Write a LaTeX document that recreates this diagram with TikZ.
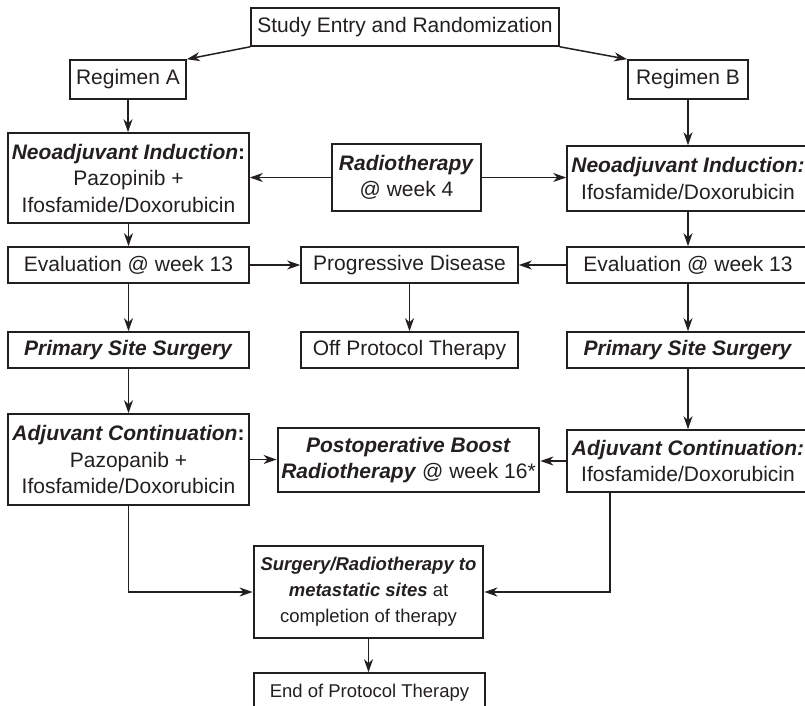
\documentclass[tikz,border=0pt]{standalone}
\usepackage{fontspec}
\setmainfont{Liberation Sans}
\usetikzlibrary{arrows.meta,calc}
\definecolor{ink}{RGB}{35,31,32}
\newcommand{\bi}[1]{\textbf{\textit{#1}}}
\begin{document}
\begin{tikzpicture}[x=1pt,y=-1pt,
  box/.style={draw=ink,text=ink,line width=1.6pt,inner sep=0pt,align=center,
    font=\fontsize{21}{26.5}\selectfont},
  thickbox/.style={box,line width=2.8pt},
  small/.style={font=\fontsize{18.5}{26}\selectfont},
  arr/.style={draw=ink,line width=1.5pt,-{Stealth[length=13pt,width=9pt,inset=4pt]}}]
\useasboundingbox (0,0) rectangle (805,706);
% row 1
\node[box,minimum width=308pt,minimum height=38pt] (study) at (405,27) {Study Entry and Randomization};
\node[box,minimum width=116pt,minimum height=39pt] (regA) at (128,79.5) {Regimen A};
\node[box,minimum width=120pt,minimum height=39pt] (regB) at (688,79.5) {Regimen B};
% row 2
\node[box,minimum width=241pt,minimum height=90pt] (neoA) at (128.5,178) {\bi{Neoadjuvant Induction}\textbf{:}\\Pazopinib +\\Ifosfamide/Doxorubicin};
\node[box,minimum width=149pt,minimum height=67pt] (radio) at (406.5,177.5) {\bi{Radiotherapy}\\@ week 4};
\node[box,minimum width=242pt,minimum height=65pt] (neoB) at (688,178.5) {\bi{Neoadjuvant Induction:}\\Ifosfamide/Doxorubicin};
% row 3
\node[box,minimum width=241pt,minimum height=36pt] (evalA) at (128.5,265) {Evaluation @ week 13};
\node[box,minimum width=217pt,minimum height=36pt] (prog) at (409.5,265) {Progressive Disease};
\node[box,minimum width=242pt,minimum height=36pt] (evalB) at (688,265) {Evaluation @ week 13};
% row 4
\node[box,minimum width=241pt,minimum height=36pt] (primA) at (128.5,350) {\bi{Primary Site Surgery}};
\node[box,minimum width=217pt,minimum height=36pt] (off) at (409.5,350) {Off Protocol Therapy};
\node[box,minimum width=242pt,minimum height=36pt] (primB) at (688,350) {\bi{Primary Site Surgery}};
% row 5
\node[box,minimum width=241pt,minimum height=91pt] (adjA) at (128.5,459.5) {\bi{Adjuvant Continuation}\textbf{:}\\Pazopanib +\\Ifosfamide/Doxorubicin};
\node[thickbox,minimum width=261pt,minimum height=64pt] (post) at (408.5,460) {\bi{Postoperative Boost}\\\bi{Radiotherapy} @ week 16*};
\node[box,minimum width=242pt,minimum height=62pt] (adjB) at (688,461) {\bi{Adjuvant Continuation:}\\Ifosfamide/Doxorubicin};
% row 6
\node[thickbox,small,minimum width=229pt,minimum height=92pt] (surg) at (368.5,592) {\bi{Surgery/Radiotherapy to}\\\bi{metastatic sites} at\\completion of therapy};
\node[box,small,minimum width=231pt,minimum height=40pt] (end) at (369.5,693) {End of Protocol Therapy};
% connectors
\draw[arr] (study.south west) -- (regA.north east);
\draw[arr] (study.south east) -- (regB.north west);
\draw[arr] (regA.south) -- (regA.south |- neoA.north);
\draw[arr] (regB.south) -- (regB.south |- neoB.north);
\draw[arr] (radio.west) -- (radio.west -| neoA.east);
\draw[arr] (radio.east) -- (radio.east -| neoB.west);
\draw[arr] (neoA.south) -- (neoA.south |- evalA.north);
\draw[arr] (neoB.south) -- (neoB.south |- evalB.north);
\draw[arr] (evalA.east) -- (prog.west);
\draw[arr] (evalB.west) -- (prog.east);
\draw[arr] (prog.south) -- (prog.south |- off.north);
\draw[arr] (evalA.south) -- (evalA.south |- primA.north);
\draw[arr] (evalB.south) -- (evalB.south |- primB.north);
\draw[arr] (primA.south) -- (primA.south |- adjA.north);
\draw[arr] (primB.south) -- (primB.south |- adjB.north);
\draw[arr] (adjA.east) -- (adjA.east -| post.west);
\draw[arr] (adjB.west) -- (adjB.west -| post.east);
\coordinate (bstart) at ($(adjB.south west)+(44,0)$);
\draw[arr] (adjA.south) |- (surg.west);
\draw[arr] (bstart) |- (surg.east);
\draw[arr] (surg.south) -- (surg.south |- end.north);
\end{tikzpicture}
\end{document}
